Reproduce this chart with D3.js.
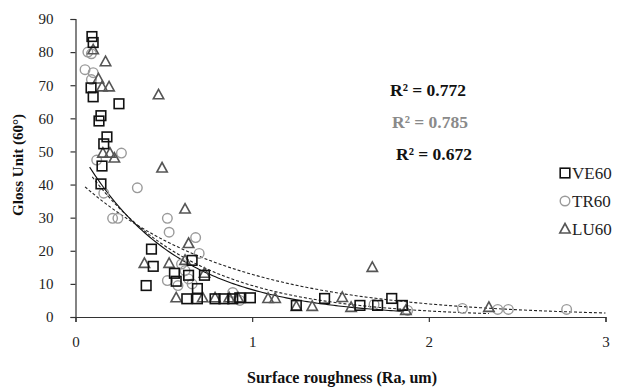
<!DOCTYPE html>
<html>
<head>
<meta charset="utf-8">
<script src="https://cdn.jsdelivr.net/npm/d3@7"></script>
<style>
  html, body { margin: 0; padding: 0; background: #fff; }
  svg { display: block; }
  text { font-family: "Liberation Serif", "Times New Roman", serif; }
</style>
</head>
<body>
<svg id="chart" width="620" height="387"></svg>
<script>
// ---------- data ----------
const seriesNames = ["VE60", "TR60", "LU60"];

const ve60X = [0.093, 0.10, 0.088, 0.10, 0.246, 0.144, 0.133, 0.178, 0.16, 0.15, 0.144,
  0.43, 0.44, 0.40, 0.56, 0.57, 0.66, 0.64, 0.73, 0.69,
  0.63, 0.69, 0.79, 0.84, 0.89, 0.93, 0.99,
  1.25, 1.41, 1.61, 1.71, 1.79, 1.85];
const ve60Y = [84.7, 82.9, 69.2, 66.5, 64.4, 60.8, 59.2, 54.4, 52.3, 45.6, 40.2,
  20.5, 15.3, 9.5, 13.2, 10.8, 17.1, 12.6, 12.6, 8.6,
  5.5, 5.5, 5.5, 5.5, 5.5, 5.8, 5.8,
  3.5, 5.6, 3.5, 3.5, 5.6, 3.5];

const tr60X = [0.07, 0.09, 0.054, 0.10, 0.09, 0.26, 0.12, 0.16, 0.35, 0.21, 0.24,
  0.52, 0.53, 0.68, 0.70, 0.52, 0.58, 0.62, 0.64, 0.66, 0.60,
  0.89, 0.93, 1.69, 1.88, 2.19, 2.39, 2.45, 2.78];
const tr60Y = [80.0, 79.5, 74.7, 73.8, 71.7, 49.5, 47.4, 37.4, 39.0, 29.8, 29.8,
  29.8, 25.6, 24.0, 19.2, 11.0, 9.5, 14.0, 11.5, 10.0, 16.0,
  7.4, 5.0, 3.8, 2.0, 2.6, 2.3, 2.3, 2.3];

const lu60X = [0.10, 0.17, 0.13, 0.15, 0.19, 0.47, 0.155, 0.195, 0.22, 0.49, 0.62,
  0.64, 0.39, 0.53, 0.62, 0.73,
  0.57, 0.72, 0.79, 0.87, 0.92,
  1.09, 1.13, 1.25, 1.34, 1.51, 1.56, 1.68, 1.87, 2.34];
const lu60Y = [80.7, 77.1, 71.9, 69.5, 69.5, 67.1, 49.5, 49.5, 48.0, 45.0, 32.6,
  22.2, 16.2, 16.2, 17.1, 13.2,
  5.8, 5.8, 5.8, 5.8, 5.8,
  5.6, 5.6, 3.2, 3.2, 5.9, 2.9, 15.0, 2.0, 2.9];

// exponential trendline coefficients y = a·e^(b·x)
const trendA = [52.5, 41.9, 49.5];
const trendB = [-1.85, -1.18, -1.65];
const trendStart = [0.08, 0.054, 0.095];
const trendEnd = [1.86, 3.0, 2.34];

const r2Labels = ["R² = 0.772", "R² = 0.785", "R² = 0.672"];
const xTicks = [0, 1, 2, 3];
const yTicks = [0, 10, 20, 30, 40, 50, 60, 70, 80, 90];

// ---------- layout ----------
const W = 620, H = 387;
const margin = { left: 75.5, right: 14.5, top: 19, bottom: 70 };
const svg = d3.select("#chart");

const x = d3.scaleLinear().domain([0, 3]).range([margin.left, W - margin.right]);
const y = d3.scaleLinear().domain([0, 90]).range([H - margin.bottom, margin.top]);

const styles = [
  { stroke: "#111", marker: "square", line: "none" },
  { stroke: "#9a9a9a", marker: "circle", line: "3,2" },
  { stroke: "#555", marker: "triangle", line: "3,2" }
];

// ---------- axes ----------
const axisColor = "#333";
const gx = svg.append("g")
  .attr("transform", `translate(0,${y(0)})`)
  .call(d3.axisBottom(x).tickValues(xTicks).tickFormat(d3.format("d")).tickSize(5).tickPadding(14));
const gy = svg.append("g")
  .attr("transform", `translate(${x(0)},0)`)
  .call(d3.axisLeft(y).tickValues(yTicks).tickSize(5).tickPadding(17));
[gx, gy].forEach(g => {
  g.select(".domain").attr("stroke", axisColor).attr("stroke-width", 1.2);
  g.selectAll(".tick line").attr("stroke", axisColor).attr("stroke-width", 1.2);
  g.selectAll(".tick text").attr("fill", "#222").style("font-size", "15px")
    .style("font-family", '"Liberation Serif", serif');
});

svg.append("text")
  .attr("x", 342).attr("y", 383)
  .attr("text-anchor", "middle")
  .style("font-size", "16px").style("font-weight", "bold").attr("fill", "#111")
  .text("Surface roughness (Ra, um)");

svg.append("text")
  .attr("transform", `translate(23,165) rotate(-90)`)
  .attr("text-anchor", "middle")
  .style("font-size", "15px").style("font-weight", "bold").attr("fill", "#111")
  .text("Gloss Unit (60°)");

// ---------- trendlines ----------
const lineGen = d3.line().x(d => x(d[0])).y(d => y(d[1]));
trendA.forEach((a, i) => {
  const pts = d3.range(0, 121).map(k => {
    const v = trendStart[i] + (trendEnd[i] - trendStart[i]) * k / 120;
    return [v, a * Math.exp(trendB[i] * v)];
  });
  svg.append("path")
    .attr("d", lineGen(pts))
    .attr("fill", "none")
    .attr("stroke", i === 0 ? "#111" : "#222")
    .attr("stroke-width", 1.1)
    .attr("stroke-dasharray", styles[i].line);
});

// ---------- markers ----------
function drawMarker(g, type, cx, cy, stroke) {
  if (type === "square") {
    g.append("rect").attr("x", cx - 4.8).attr("y", cy - 4.8).attr("width", 9.6).attr("height", 9.6)
      .attr("fill", "none").attr("stroke", stroke).attr("stroke-width", 1.6);
  } else if (type === "circle") {
    g.append("circle").attr("cx", cx).attr("cy", cy).attr("r", 4.8)
      .attr("fill", "none").attr("stroke", stroke).attr("stroke-width", 1.4);
  } else {
    g.append("path")
      .attr("d", `M${cx},${cy - 5.5}L${cx + 5.2},${cy + 4}L${cx - 5.2},${cy + 4}Z`)
      .attr("fill", "none").attr("stroke", stroke).attr("stroke-width", 1.6);
  }
}

const allX = [ve60X, tr60X, lu60X];
const allY = [ve60Y, tr60Y, lu60Y];
const drawOrder = [1, 2, 0];
drawOrder.forEach(i => {
  const g = svg.append("g");
  allX[i].forEach((v, j) => drawMarker(g, styles[i].marker, x(v), y(allY[i][j]), styles[i].stroke));
});

// ---------- R² labels ----------
const r2Colors = ["#111", "#8a8a8a", "#111"];
const r2Pos = [[390, 96], [392, 128], [396, 160]];
r2Labels.forEach((t, i) => {
  svg.append("text")
    .attr("x", r2Pos[i][0]).attr("y", r2Pos[i][1])
    .style("font-size", "17.5px").style("font-weight", "bold")
    .attr("fill", r2Colors[i])
    .text(t);
});

// ---------- legend ----------
const legendRows = [173, 201, 229];
seriesNames.forEach((name, i) => {
  const g = svg.append("g");
  drawMarker(g, styles[i].marker, 565, legendRows[i], styles[i].stroke);
  g.append("text").attr("x", 572).attr("y", legendRows[i] + 6)
    .style("font-size", "17px").attr("fill", "#222").text(name);
});
</script>
</body>
</html>
